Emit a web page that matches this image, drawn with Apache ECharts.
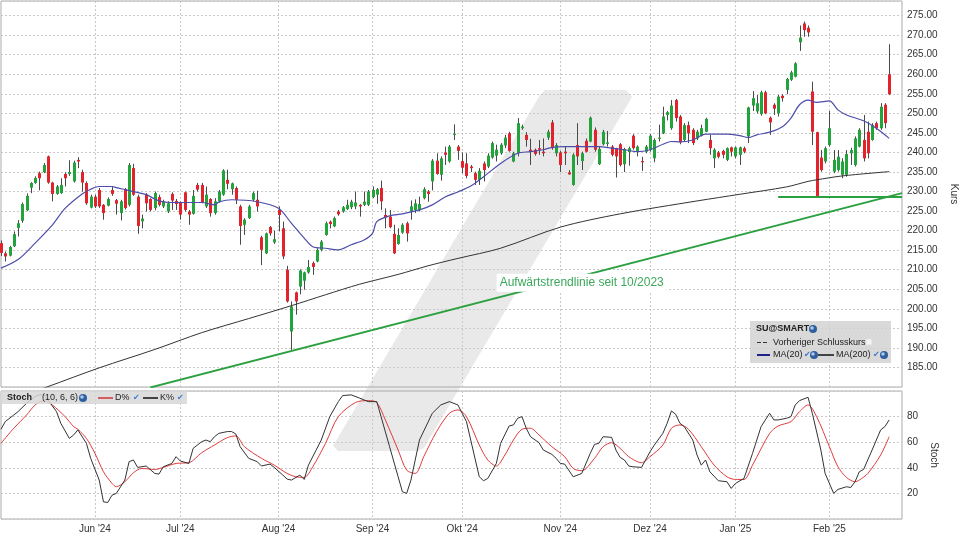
<!DOCTYPE html>
<html><head><meta charset="utf-8">
<script src="https://cdn.jsdelivr.net/npm/echarts@6/dist/echarts.min.js"></script>
<style>html,body{margin:0;padding:0;background:#fff}#c{width:960px;height:540px}</style>
</head><body><div id="c"></div>
<script>
// ---------- categories (Euronext trading days) ----------
const holidays = ['2024-12-25','2024-12-26','2025-01-01'];
const categories = [];
(function(){ let d = new Date(Date.UTC(2024,4,2));
  while (categories.length < 212) { const wd = d.getUTCDay(); const s = d.toISOString().slice(0,10);
    if (wd !== 0 && wd !== 6 && holidays.indexOf(s) < 0) categories.push(s);
    d.setUTCDate(d.getUTCDate()+1); } })();
const monthNames = ['Jan','Feb','Mär','Apr','Mai','Jun','Jul','Aug','Sep','Okt','Nov','Dez'];
const priceTicks = [185,190,195,200,205,210,215,220,225,230,235,240,245,250,255,260,265,270,275];
const stochTicks = [20,40,60,80];

// ---------- OHLC ----------
const opens = [216.8,214.2,213.6,216.0,220.7,222.5,225.2,231.0,232.2,234.7,234.9,239.0,232.3,229.4,229.6,234.5,234.5,232.6,238.1,235.0,
232.2,225.9,228.7,230.4,226.6,226.4,230.4,227.8,224.5,230.6,226.6,236.0,228.7,222.4,229.2,228.1,225.8,228.6,226.2,224.9,
229.4,227.6,227.2,229.8,224.9,224.3,231.7,231.7,226.2,228.1,224.5,227.5,229.2,233.0,230.6,230.9,226.2,221.5,223.2,227.9,
227.9,218.3,214.2,220.9,217.0,225.3,220.6,210.0,194.2,204.2,205.7,207.2,209.3,211.7,212.1,215.1,218.9,222.3,221.1,224.9,
224.9,225.5,226.0,226.2,226.6,226.6,226.6,228.6,229.2,230.9,224.0,223.6,219.2,216.6,219.5,221.9,224.9,225.3,225.2,228.3,
230.0,232.6,237.9,234.3,240.0,237.7,244.5,241.5,237.8,237.2,236.4,234.7,233.0,237.2,236.4,238.7,239.2,239.8,241.8,244.9,
237.7,239.8,246.2,244.5,240.7,240.7,241.1,240.2,243.8,247.7,239.8,240.0,240.2,234.9,231.7,241.9,237.8,243.0,242.8,245.8,
237.0,242.1,242.2,241.5,240.9,242.1,237.0,240.1,244.3,240.2,237.8,240.2,240.7,238.5,243.5,244.9,249.6,246.2,253.4,249.2,
243.2,247.0,245.8,243.6,244.3,245.3,243.2,238.5,240.0,240.4,238.1,241.3,239.0,239.4,241.1,244.1,252.0,250.5,249.8,255.4,
248.9,252.2,250.0,254.5,256.0,258.6,259.4,268.2,273.0,271.9,255.6,245.2,238.7,237.7,241.9,235.1,235.5,234.3,234.3,239.8,
236.8,241.5,243.2,245.3,243.2,247.5,246.2,252.2,260.0];
const closes = [214.3,213.4,215.8,219.1,221.9,226.8,228.9,232.2,233.5,233.4,236.8,232.3,229.4,231.3,231.7,233.4,235.0,237.4,237.7,232.3,
227.0,228.7,226.2,226.2,224.5,228.1,229.4,226.9,227.5,225.8,236.8,229.2,221.2,223.1,227.0,225.3,229.6,226.6,227.5,227.0,
227.7,226.8,224.1,225.3,224.1,228.9,230.5,227.2,229.2,224.5,227.5,230.0,235.4,232.0,232.1,227.9,221.2,222.8,226.2,229.6,
226.2,215.1,219.3,219.3,217.8,224.0,213.4,201.9,200.6,201.9,209.8,209.3,210.7,210.7,215.1,217.2,221.9,221.7,223.2,224.2,
226.0,226.6,227.4,227.2,226.2,227.4,230.0,230.4,230.6,227.5,223.4,220.9,214.2,218.9,221.5,219.3,226.2,227.0,226.8,230.6,
229.4,237.9,234.5,238.5,239.4,241.5,244.8,240.4,236.1,234.0,236.0,233.0,235.3,235.5,239.2,242.4,240.7,242.0,243.8,240.4,
239.8,247.5,246.6,243.2,240.2,239.6,240.7,239.8,245.3,241.1,241.9,236.8,239.8,234.4,239.4,239.0,239.8,240.2,248.9,240.7,
240.9,245.3,242.6,239.4,239.0,236.8,240.9,241.1,241.1,241.5,237.5,241.5,244.3,243.2,243.8,249.2,250.3,252.0,248.8,242.6,
247.0,244.9,242.4,245.3,246.2,248.6,241.1,240.7,238.9,239.4,241.1,240.2,241.3,241.3,240.2,251.5,253.9,252.6,255.4,250.0,
247.7,251.2,254.3,253.9,258.8,260.5,262.8,269.4,271.3,270.7,245.3,228.7,235.5,241.1,246.2,238.1,238.9,237.7,239.6,240.6,
243.6,245.8,238.5,239.8,247.0,246.2,251.7,247.5,254.9];
const lows = [213.5,212.1,213.4,215.8,218.5,222.0,225.0,229.6,232.0,230.3,234.7,232.0,227.5,229.2,229.4,231.3,234.0,232.3,236.0,230.0,
226.6,225.7,225.8,225.8,222.8,226.2,228.9,224.1,222.6,225.4,226.2,228.9,219.2,220.6,224.9,224.9,225.2,226.2,225.8,224.5,
225.3,225.3,222.8,224.9,221.5,224.1,230.0,227.0,225.8,223.6,224.1,227.2,228.9,230.6,229.2,226.8,216.4,218.9,223.0,227.5,
224.9,211.2,214.0,218.7,216.6,219.8,212.7,201.6,189.5,198.5,203.7,204.9,209.0,208.7,211.9,214.7,218.7,220.6,220.9,223.8,
224.6,225.3,225.5,225.5,223.6,226.3,226.3,228.3,226.9,225.3,220.6,220.6,214.0,216.4,219.2,217.2,222.8,224.5,224.9,228.0,
227.4,230.3,234.3,232.8,236.8,237.4,243.2,238.1,234.7,233.4,235.0,231.7,231.7,232.6,236.0,238.4,237.7,239.4,241.1,240.2,
237.5,239.0,245.8,241.5,236.8,239.2,239.4,239.0,243.2,240.7,239.0,235.0,236.8,234.3,231.5,236.8,235.5,240.0,242.6,240.2,
236.8,241.8,241.5,239.0,233.6,236.4,235.0,236.6,240.7,239.0,235.3,239.8,240.2,237.5,242.8,244.7,248.2,245.8,247.9,242.1,
242.8,242.4,241.9,243.2,244.1,245.2,239.4,236.0,238.5,238.5,237.8,239.0,238.5,236.8,239.8,242.4,250.6,250.0,249.4,249.8,
244.5,249.6,249.2,253.0,254.9,258.3,259.2,266.0,269.6,269.6,241.9,228.5,235.1,237.2,241.5,234.7,235.1,233.4,233.8,236.8,
236.4,241.3,237.7,238.5,243.0,245.8,245.8,246.2,254.7];
const highs = [217.5,214.7,216.1,219.8,222.7,227.2,229.5,232.4,233.9,235.1,237.3,239.2,232.5,231.7,233.4,234.9,238.0,237.9,238.8,235.6,
232.6,229.2,229.2,230.9,226.8,228.5,231.3,228.1,227.9,230.9,237.3,237.1,229.2,224.1,229.6,228.3,230.0,229.2,227.9,227.5,
229.8,228.1,227.5,230.0,225.3,230.4,232.2,232.2,231.3,228.3,228.3,230.4,235.7,235.6,232.3,231.3,226.6,223.2,226.6,230.0,
230.2,218.7,219.5,221.2,220.0,226.2,222.3,211.0,201.9,204.4,210.1,209.5,212.5,212.1,215.5,217.6,222.3,222.6,223.6,225.3,
226.3,227.9,227.9,230.0,226.8,230.0,230.4,231.3,230.9,232.8,225.7,225.3,221.5,220.6,221.9,222.3,227.7,228.0,228.7,231.1,
230.4,238.3,239.8,239.0,241.5,241.9,247.2,241.9,240.0,239.8,236.8,235.1,236.0,237.7,239.8,242.8,242.0,242.4,244.5,245.3,
240.2,248.8,247.1,245.2,243.5,241.0,243.2,243.6,245.8,248.3,242.4,240.4,241.5,235.5,239.8,247.5,240.2,243.6,249.2,246.4,
241.5,245.8,245.5,241.9,241.2,242.4,241.2,241.5,244.7,241.8,238.9,241.9,244.7,243.6,247.1,251.7,250.6,253.4,253.7,249.6,
247.5,247.9,246.2,245.8,247.1,248.9,244.5,241.1,240.4,240.7,241.3,241.5,241.5,241.5,241.5,251.7,255.7,254.7,255.8,255.8,
249.2,252.6,254.7,254.9,259.1,260.9,263.1,272.5,273.5,272.5,258.1,245.3,240.6,241.5,250.6,240.6,240.6,238.5,240.6,241.2,
244.1,246.2,249.6,247.9,247.5,247.9,252.6,252.6,267.7];

// ---------- indicators: [day index, value] ----------
const ma20 = [[0,210.4],[4,212.6],[8,216.8],[12,221.4],[15,225.7],[19,229.4],[21,230.6],[23,231.3],[26,231.3],[27,231.0],[29,230.5],
[31,230.0],[34,229.2],[37,227.6],[40,227.2],[44,227.2],[47,227.2],[50,226.6],[51,227.3],[54,227.9],[60,227.4],[65,225.7],[68,221.9],
[71,218.1],[73,215.9],[76,215.5],[79,215.1],[82,216.4],[85,217.6],[87,219.3],[88,222.3],[91,223.8],[94,224.3],[98,225.3],[101,226.6],
[104,228.6],[107,229.9],[110,231.4],[113,233.8],[117,237.2],[121,239.8],[124,240.2],[127,240.7],[129,241.3],[132,241.5],[136,241.5],
[140,241.5],[143,241.1],[146,240.7],[149,240.2],[152,240.7],[155,242.1],[157,242.8],[159,242.7],[162,243.2],[165,244.7],[170,244.7],
[173,244.3],[175,243.8],[177,244.5],[180,245.2],[183,246.6],[185,248.8],[187,252.2],[189,253.4],[191,252.8],[194,253.2],[196,250.9],
[198,249.6],[202,248.1],[205,246.2],[208,243.6]];
const ma200 = [[0,175.8],[11,180.1],[23,184.9],[36,189.6],[47,193.9],[58,197.5],[68,200.8],[76,203.6],[84,206.3],[93,208.8],[100,211.0],
[107,212.9],[117,215.5],[131,220.9],[145,224.3],[163,227.6],[173,229.3],[184,231.2],[189,232.6],[191,233.0],[197,234.0],[208,235.1]];
const stochK = [[0,70.1],[1,76.1],[3,81.3],[4,83.9],[6,90.4],[8,95.7],[9,97.0],[10,97.0],[11,93.0],[13,83.9],[14,74.8],[16,63.0],[17,65.6],
[18,69.6],[20,59.1],[21,47.4],[23,30.4],[24,13.4],[25,12.9],[26,18.6],[27,20.0],[29,30.4],[30,44.8],[31,46.1],[32,40.3],[34,41.4],[36,35.6],
[37,35.1],[38,40.8],[40,43.4],[41,48.7],[42,45.3],[44,43.4],[45,55.2],[47,60.4],[48,61.7],[49,60.4],[50,64.3],[51,66.9],[53,68.3],[54,68.3],
[55,66.4],[56,56.5],[58,47.4],[60,44.8],[61,41.4],[63,42.9],[64,40.3],[66,34.3],[67,31.2],[68,30.4],[70,34.3],[71,30.9],[72,42.1],[75,61.7],
[77,80.0],[79,91.7],[80,96.4],[82,97.0],[84,94.4],[86,91.7],[88,91.7],[89,80.0],[91,56.5],[93,33.0],[94,21.3],[95,20.0],[96,30.4],[98,61.7],
[101,82.6],[103,89.1],[105,91.7],[107,89.1],[109,76.1],[112,33.0],[113,29.9],[114,31.7],[116,43.4],[117,59.1],[119,72.7],[120,73.5],[121,78.7],
[122,80.0],[123,70.9],[124,64.3],[126,59.6],[127,53.9],[129,50.5],[130,47.4],[131,43.4],[132,42.9],[134,33.0],[136,35.6],[138,51.3],[139,58.3],
[140,59.1],[141,64.3],[143,63.8],[144,53.9],[145,48.1],[146,46.1],[147,41.4],[148,40.8],[150,40.3],[152,52.6],[153,57.8],[155,66.9],[156,74.8],
[157,84.4],[158,81.8],[159,74.8],[160,72.2],[162,61.7],[163,50.0],[164,42.1],[165,46.1],[166,36.9],[168,29.9],[170,29.1],[171,23.9],[172,27.8],
[174,31.7],[176,51.3],[178,72.2],[180,82.6],[181,77.4],[182,77.4],[184,78.7],[185,80.0],[186,89.1],[187,92.5],[189,95.1],[190,82.6],[192,53.9],
[193,35.6],[195,20.0],[196,23.1],[198,25.2],[199,24.6],[200,29.1],[201,36.9],[202,38.7],[204,53.9],[206,69.6],[207,72.2],[208,77.4]];
const stochD = [[0,59.1],[3,70.9],[6,81.3],[8,89.1],[10,92.5],[12,89.1],[15,80.0],[17,72.2],[18,70.1],[20,63.0],[22,51.3],[24,36.9],[26,27.8],
[27,25.2],[29,29.1],[31,36.1],[33,39.5],[36,38.7],[38,40.3],[41,43.4],[44,44.0],[47,51.8],[50,57.8],[53,63.6],[55,64.9],[57,56.5],[61,47.4],
[64,42.1],[67,35.6],[69,33.0],[71,32.5],[73,40.8],[76,59.1],[79,80.0],[83,91.0],[86,92.5],[88,91.0],[90,77.4],[93,53.9],[95,38.2],[97,35.6],
[99,48.7],[102,68.3],[105,82.6],[107,85.2],[109,80.0],[112,57.8],[114,46.1],[116,41.4],[118,50.0],[120,61.7],[122,70.1],[124,70.9],[126,65.6],
[129,56.5],[132,48.7],[134,39.5],[136,37.7],[139,47.4],[141,56.5],[143,59.6],[145,55.2],[147,48.7],[150,44.0],[152,48.7],[155,57.8],[157,70.9],
[159,73.5],[161,70.1],[164,56.5],[167,42.1],[170,33.0],[172,30.9],[174,30.9],[176,42.1],[180,66.9],[182,72.7],[185,76.1],[187,83.9],[189,89.1],
[191,80.0],[194,56.5],[196,40.8],[198,32.5],[200,29.1],[201,30.4],[203,35.6],[206,50.0],[208,64.3]];
const trendLine = [[35,179.9],[211,229.6]];
const supportLine = [[182,228.6],[211,228.6]];

const GREEN = '#23a33b', RED = '#e3232b', FONT = '"Liberation Sans", Arial, sans-serif';
function monthStart(i){ return i > 0 && categories[i].slice(0,7) !== categories[i-1].slice(0,7); }
function monthLabel(s){ return monthNames[+s.slice(5,7)-1] + " '" + s.slice(2,4); }

const chart = echarts.init(document.getElementById('c'), null, {renderer:'canvas'});
const gridStyle = {color:'#c9c9c9', type:[2,2], width:1};
const option = {
  animation:false, backgroundColor:'#fff',
  textStyle:{fontFamily:FONT},
  grid:[
    {left:1, top:1, width:901, height:386, show:true, borderColor:'#aaa', borderWidth:1, backgroundColor:'transparent', containLabel:false, outerBoundsMode:'none'},
    {left:1, top:391, width:901, height:128, show:true, borderColor:'#aaa', borderWidth:1, backgroundColor:'transparent', containLabel:false, outerBoundsMode:'none'}
  ],
  xAxis:[
    {type:'category', gridIndex:0, data:categories, boundaryGap:false,
     axisLine:{show:false}, axisTick:{show:false, interval:(i)=>monthStart(i)}, axisLabel:{show:false, interval:(i)=>monthStart(i)},
     splitLine:{show:true, interval:(i)=>monthStart(i), lineStyle:gridStyle}},
    {type:'category', gridIndex:1, data:categories, boundaryGap:false,
     axisLine:{show:false}, axisTick:{show:false, interval:(i)=>monthStart(i)},
     axisLabel:{show:true, interval:(i)=>monthStart(i), formatter:(v)=>monthLabel(v), color:'#333', fontSize:10, margin:5, fontFamily:FONT},
     splitLine:{show:true, interval:(i)=>monthStart(i), lineStyle:gridStyle}}
  ],
  yAxis:[
    {type:'value', gridIndex:0, position:'right', min:180, max:278.75, interval:5, scale:true,
     axisLine:{show:false}, axisTick:{show:false},
     axisLabel:{color:'#333', fontSize:10, margin:5, fontFamily:FONT, showMinLabel:false, showMaxLabel:false,
       formatter:(v)=> priceTicks.indexOf(Math.round(v*100)/100) >= 0 ? v.toFixed(2) : ''},
     splitLine:{show:true, lineStyle:gridStyle},
     name:'Kurs', nameLocation:'middle', nameRotate:-90, nameGap:40, nameTextStyle:{color:'#333', fontSize:10, fontFamily:FONT}},
    {type:'value', gridIndex:1, position:'right', min:0, max:100, interval:20,
     axisLine:{show:false}, axisTick:{show:false},
     axisLabel:{color:'#333', fontSize:10, margin:5, fontFamily:FONT,
       formatter:(v)=> stochTicks.indexOf(v) >= 0 ? String(v) : ''},
     splitLine:{show:true, lineStyle:gridStyle},
     name:'Stoch', nameLocation:'middle', nameRotate:-90, nameGap:22, nameTextStyle:{color:'#333', fontSize:10, fontFamily:FONT}}
  ],
  series:[
    {type:'custom', name:'SU', xAxisIndex:0, yAxisIndex:0, z:3,
     data: opens.map((o,i)=>[i,o,closes[i],lows[i],highs[i]]),
     encode:{x:0, y:[1,2,3,4]},
     renderItem:(params, api)=>{
       const i=api.value(0), o=api.value(1), c=api.value(2), l=api.value(3), h=api.value(4);
       const pO=api.coord([i,o]), pC=api.coord([i,c]), pL=api.coord([i,l]), pH=api.coord([i,h]);
       const x=Math.round(pO[0])+0.5;
       const top=Math.min(pO[1],pC[1]), bot=Math.max(pO[1],pC[1]);
       return {type:'group', children:[
         {type:'line', shape:{x1:x,y1:pH[1],x2:x,y2:pL[1]}, style:{stroke:'#4a4a4a', lineWidth:1}},
         {type:'rect', shape:{x:x-1.5, y:top, width:3, height:Math.max(1,bot-top)}, style:{fill:c>=o?GREEN:RED}}
       ]};
     }},
    {type:'line', name:'MA(200)', xAxisIndex:0, yAxisIndex:0, data:ma200, showSymbol:false, smooth:0.3, z:4,
     lineStyle:{color:'#333', width:1}},
    {type:'line', name:'MA(20)', xAxisIndex:0, yAxisIndex:0, data:ma20, showSymbol:false, smooth:0.3, z:4,
     lineStyle:{color:'#4d4dab', width:1.2}},
    {type:'line', name:'Trend', xAxisIndex:0, yAxisIndex:0, data:trendLine, showSymbol:false, z:4,
     lineStyle:{color:'#2aa040', width:2},
     markPoint:{symbol:'rect', symbolSize:1, itemStyle:{color:'rgba(0,0,0,0)'}, silent:true,
       data:[{coord:[136,206.7], label:{show:true, position:'inside', formatter:'Aufwärtstrendlinie seit 10/2023',
         color:'#3aa85a', fontSize:12, fontFamily:FONT, backgroundColor:'#fff', padding:[3,3]}}]}},
    {type:'line', name:'Support', xAxisIndex:0, yAxisIndex:0, data:supportLine, showSymbol:false, z:4,
     lineStyle:{color:'#2aa040', width:2}},
    {type:'line', name:'D%', xAxisIndex:1, yAxisIndex:1, data:stochD, showSymbol:false, smooth:0.3, z:4,
     lineStyle:{color:'#e03c3c', width:1}},
    {type:'line', name:'K%', xAxisIndex:1, yAxisIndex:1, data:stochK, showSymbol:false, z:4,
     lineStyle:{color:'#333', width:1}}
  ],
  graphic:[]
};
chart.setOption(option);

function globe(x,y){ return [
  {type:'circle', shape:{cx:x,cy:y,r:4}, style:{fill:'#2f5f9e'}, z:100},
  {type:'circle', shape:{cx:x-1,cy:y-1,r:1.8}, style:{fill:'#a9c8ee'}, z:101}]; }
function txt(x,y,t,opt){ return Object.assign({type:'text', x:x, y:y, z:102,
  style:{text:t, fill:'#222', font:'9px '+FONT, textVerticalAlign:'middle', verticalAlign:'middle'}}, opt||{}); }
function check(x,y){ return txt(x,y,'✔',{style:{text:'✔', fill:'#3b78d0', font:'8px "DejaVu Sans"', verticalAlign:'middle'}}); }
const g = [
  // watermark
  {type:'polygon', z:-1, shape:{points:[[545,90],[626,90],[632,97],[424,448],[418,451],[338,451],[333,446],[540,95]]},
   style:{fill:'#e9e9e9'}},
  // main legend box
  {type:'rect', shape:{x:750,y:321,width:141,height:42}, style:{fill:'rgba(210,210,210,0.85)'}, z:99},
  txt(756,329,'SU@SMART',{style:{text:'SU@SMART', fill:'#222', font:'bold 9px '+FONT, verticalAlign:'middle'}}),
  ...globe(813,329),
  {type:'line', shape:{x1:757,y1:342.5,x2:769,y2:342.5}, style:{stroke:'#333', lineWidth:1, lineDash:[4,2]}, z:102},
  txt(773,342.5,'Vorheriger Schlusskurs'),
  {type:'rect', shape:{x:866,y:339,width:6,height:6}, style:{fill:'#f4f4f4', stroke:'#ddd'}, z:102},
  {type:'line', shape:{x1:757,y1:355,x2:770,y2:355}, style:{stroke:'#222288', lineWidth:2}, z:102},
  txt(773,355,'MA(20)'),
  check(804,355), ...globe(814,355),
  {type:'line', shape:{x1:818,y1:355,x2:834,y2:355}, style:{stroke:'#111', lineWidth:1.5}, z:102},
  txt(836,355,'MA(200)'),
  check(873,355), ...globe(884,355),
  // stoch legend box
  {type:'rect', shape:{x:1,y:391,width:186,height:13}, style:{fill:'rgba(215,215,215,0.85)'}, z:99},
  txt(7,398,'Stoch',{style:{text:'Stoch', fill:'#222', font:'bold 9px '+FONT, verticalAlign:'middle'}}),
  txt(42,398,'(10, 6, 6)'), ...globe(83,398),
  {type:'line', shape:{x1:98,y1:398,x2:113,y2:398}, style:{stroke:'#d03030', lineWidth:1.5}, z:102},
  txt(115,398,'D%'), check(133,398),
  {type:'line', shape:{x1:143,y1:398,x2:158,y2:398}, style:{stroke:'#111', lineWidth:1.5}, z:102},
  txt(160,398,'K%'), check(177,398)
];
chart.setOption({graphic:g});
</script></body></html>
